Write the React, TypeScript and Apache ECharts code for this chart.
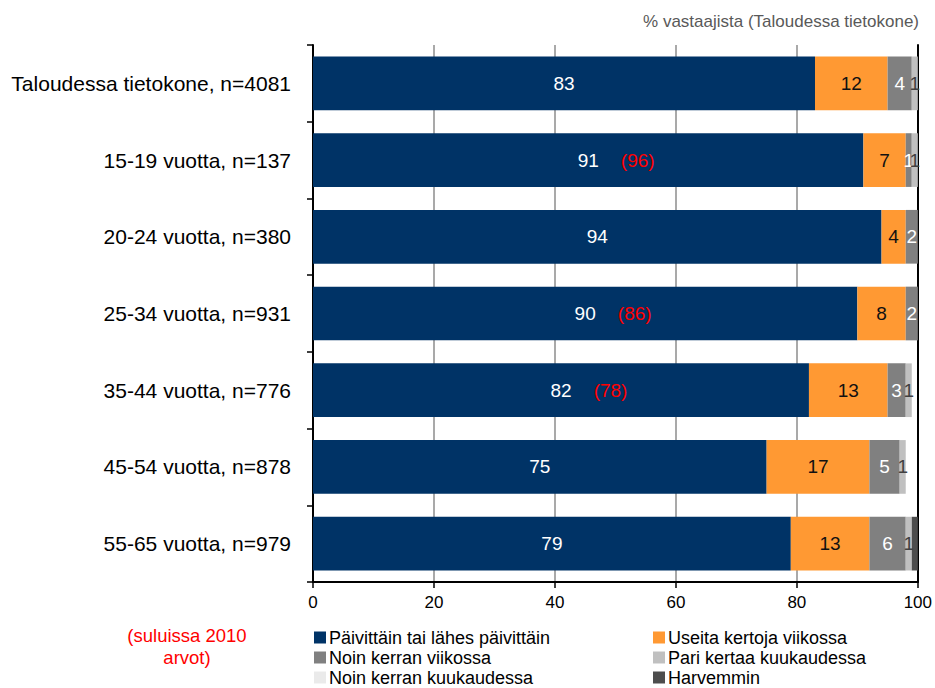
import React, { useEffect, useRef } from "react";
import * as echarts from "echarts";

const categories = [
  "Taloudessa tietokone, n=4081",
  "15-19 vuotta, n=137",
  "20-24 vuotta, n=380",
  "25-34 vuotta, n=931",
  "35-44 vuotta, n=776",
  "45-54 vuotta, n=878",
  "55-65 vuotta, n=979",
];

const seriesNames = [
  "Päivittäin tai lähes päivittäin",
  "Useita kertoja viikossa",
  "Noin kerran viikossa",
  "Pari kertaa kuukaudessa",
  "Noin kerran kuukaudessa",
  "Harvemmin",
];

const daily = [83, 91, 94, 90, 82, 75, 79];
const severalWeekly = [12, 7, 4, 8, 13, 17, 13];
const onceWeekly = [4, 1, 2, 2, 3, 5, 6];
const coupleMonthly = [1, 1, 0, 0, 1, 1, 1];
const onceMonthly = [0, 0, 0, 0, 0, 0, 0];
const rarely = [0, 0, 0, 0, 0, 0, 1];

const values2010: (number | null)[] = [null, 96, null, 86, 78, null, null];

const colors = ["#003366", "#FF9933", "#808080", "#C0C0C0", "#EAEAEA", "#4D4D4D"];
const labelColors = ["#ffffff", "#111111", "#ffffff", "#404040", "#404040", "#ffffff"];
const showLabels = [true, true, true, true, true, false];

const FONT = '"Liberation Sans", Arial, sans-serif';

export default function App() {
  const ref = useRef<HTMLDivElement>(null);
  useEffect(() => {
    document.body.style.margin = "0";
    if (!ref.current) return;
    const chart = echarts.init(ref.current, null, { renderer: "svg" });
    const allData = [daily, severalWeekly, onceWeekly, coupleMonthly, onceMonthly, rarely];

    const series: any[] = allData.map((d, si) => ({
      name: seriesNames[si],
      type: "bar",
      stack: "total",
      barCategoryGap: "30%",
      data: d,
      itemStyle: { color: colors[si] },
      label: {
        show: showLabels[si],
        position: "inside",
        color: labelColors[si],
        fontSize: 19,
        fontFamily: FONT,
        formatter: (p: any) => {
          if (!p.value) return "";
          if (si === 0) {
            const old = values2010[p.dataIndex];
            if (old != null) return `{sp|}{v|${p.value}}{g|}{r|(${old})}`;
            return `{v|${p.value}}`;
          }
          return String(p.value);
        },
        rich:
          si === 0
            ? {
                v: { color: "#ffffff", fontSize: 19, fontFamily: FONT },
                sp: { width: 58 },
                g: { width: 20 },
                r: { color: "#FF0000", fontSize: 19, fontFamily: FONT, width: 38, align: "left" },
              }
            : undefined,
      },
      emphasis: { disabled: true },
    }));

    const legendText = { fontSize: 18, color: "#000", fontFamily: FONT, lineHeight: 19, padding: [0, 0, 0, -2] };

    chart.setOption({
      animation: false,
      title: [
        {
          text: "% vastaajista (Taloudessa tietokone)",
          right: 11,
          top: 8,
          textStyle: { color: "#595959", fontSize: 17, fontWeight: "normal", fontFamily: FONT },
        },
        {
          text: "(suluissa 2010\narvot)",
          left: 182,
          top: 619,
          textAlign: "center",
          textStyle: { color: "#FF0000", fontSize: 18.5, fontWeight: "normal", fontFamily: FONT, lineHeight: 22 },
        },
      ],
      legend: [
        {
          data: [seriesNames[0], seriesNames[2], seriesNames[4]],
          orient: "vertical",
          left: 314,
          top: 628,
          itemWidth: 12,
          itemHeight: 12,
          itemGap: 1,
          icon: "rect",
          padding: 0,
          textStyle: legendText,
        },
        {
          data: [seriesNames[1], seriesNames[3], seriesNames[5]],
          orient: "vertical",
          left: 653,
          top: 628,
          itemWidth: 12,
          itemHeight: 12,
          itemGap: 1,
          icon: "rect",
          padding: 0,
          textStyle: legendText,
        },
      ],
      grid: { left: 313, right: 17, top: 45, bottom: 106, containLabel: false },
      xAxis: {
        type: "value",
        min: 0,
        max: 100,
        interval: 20,
        axisLine: { show: true, lineStyle: { color: "#000", width: 2 } },
        axisTick: { show: true, length: 6, lineStyle: { color: "#000", width: 1.5 } },
        axisLabel: { fontSize: 17, color: "#000", margin: 12, fontFamily: FONT },
        splitLine: { show: true, lineStyle: { color: "#8c8c8c", width: 1.5 } },
      },
      yAxis: [
        {
          type: "category",
          data: categories,
          inverse: true,
          axisLine: { show: true, lineStyle: { color: "#000", width: 2 } },
          axisTick: { show: true, length: 6, lineStyle: { color: "#000", width: 1.5 } },
          axisLabel: { fontSize: 21, color: "#000", margin: 22, fontFamily: FONT },
        },
        {
          type: "category",
          data: categories,
          inverse: true,
          position: "right",
          axisLine: { show: true, lineStyle: { color: "#000", width: 2 } },
          axisTick: { show: false },
          axisLabel: { show: false },
        },
      ],
      series,
    });
    return () => chart.dispose();
  }, []);
  return <div ref={ref} style={{ width: 935, height: 688 }} />;
}
